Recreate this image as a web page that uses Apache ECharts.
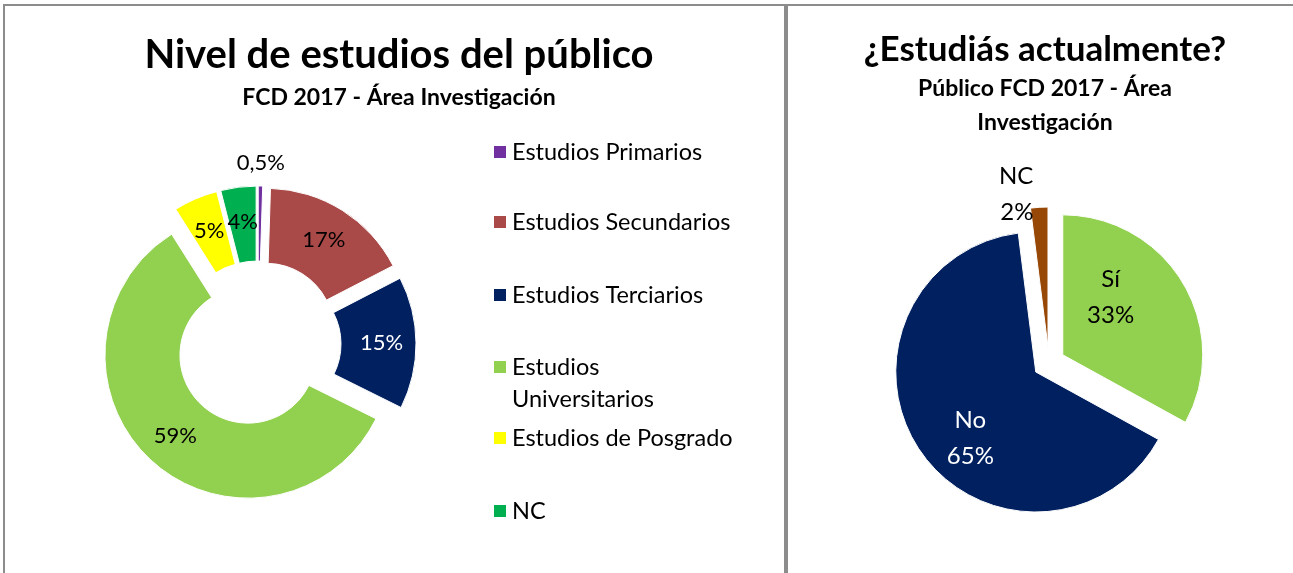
<!DOCTYPE html>
<html>
<head>
<meta charset="utf-8">
<script src="https://cdn.jsdelivr.net/npm/echarts@6/dist/echarts.min.js"></script>
<style>
  html, body { margin: 0; padding: 0; background: #fff; }
  #main { width: 1293px; height: 573px; }
</style>
</head>
<body>
<div id="main"></div>
<script>
// nivel de estudios
var niveles = ['Estudios Primarios', 'Estudios Secundarios', 'Estudios Terciarios',
               'Estudios Universitarios', 'Estudios de Posgrado', 'NC'];
var nivelesPct = [0.5, 17, 15, 59, 5, 4];
// ¿estudiás actualmente?
var respuestas = ['Sí', 'No', 'NC'];
var respuestasPct = [33, 65, 2];

var coloresNivel = ['#7030A0', '#AA4A48', '#002060', '#92D050', '#FFFF00', '#00B050'];
var coloresResp = ['#92D050', '#002060', '#974706'];
var fuente = 'Lato';

var myChart = echarts.init(document.getElementById('main'));

var dataNivel = niveles.map(function (n, i) {
    var item = {
        name: n,
        value: nivelesPct[i],
        selected: true,
        itemStyle: {color: coloresNivel[i]},
        label: {color: coloresNivel[i] === '#002060' ? '#fff' : '#000'}
    };
    if (i === 0) {
        item.label.position = 'outside';
        item.labelLine = {show: false, length: 23, length2: 0};
    }
    return item;
});

var dataResp = respuestas.map(function (n, i) {
    var item = {
        name: n,
        value: respuestasPct[i],
        selected: true,
        itemStyle: {color: coloresResp[i]},
        label: {color: coloresResp[i] === '#002060' ? '#fff' : '#000'}
    };
    if (n === 'NC') {
        item.label.position = 'outside';
        item.labelLine = {show: false, length: 13, length2: 0};
    }
    return item;
});

// una leyenda por item, asi el texto en dos lineas no corre el resto
var legendTops = [152, 222, 295, 367, 438, 511];
var legends = niveles.map(function (n, i) {
    var dosLineas = n === 'Estudios Universitarios';
    return {
        data: [n],
        left: 492,
        top: legendTops[i] - (dosLineas ? 48 : 12),
        padding: 0,
        itemWidth: 14,
        itemHeight: 14,
        icon: 'rect',
        selectedMode: false,
        // linea vacia arriba para que el icono quede con "Estudios"
        formatter: dosLineas ? function () { return '\nEstudios\nUniversitarios'; } : '{name}',
        textStyle: {
            fontFamily: fuente,
            fontSize: 23.5,
            color: '#000',
            lineHeight: dosLineas ? 32 : 24
        }
    };
});

var optionMap = {
    backgroundColor: '#FFFFFF',
    animation: false,
    title: [{
        text: 'Nivel de estudios del público',
        subtext: 'FCD 2017 - Área Investigación',
        left: 394,
        top: 30,
        textAlign: 'center',
        itemGap: 11,
        textStyle: {fontFamily: fuente, fontWeight: 'bold', fontSize: 40, color: '#000'},
        subtextStyle: {fontFamily: fuente, fontWeight: 'bold', fontSize: 23, color: '#000'}
    }, {
        text: '¿Estudiás actualmente?',
        subtext: 'Público FCD 2017 - Área\nInvestigación',
        left: 1040,
        top: 27,
        textAlign: 'center',
        itemGap: 5,
        textStyle: {fontFamily: fuente, fontWeight: 'bold', fontSize: 35, color: '#000'},
        subtextStyle: {fontFamily: fuente, fontWeight: 'bold', fontSize: 23, lineHeight: 34, color: '#000'}
    }],
    legend: legends,
    graphic: [
        {type: 'rect', shape: {x: 3, y: 4, width: 1290, height: 2}, style: {fill: '#8c8c8c'}, silent: true},
        {type: 'rect', shape: {x: 3, y: 4, width: 2, height: 569}, style: {fill: '#8c8c8c'}, silent: true},
        {type: 'rect', shape: {x: 784, y: 4, width: 4, height: 569}, style: {fill: '#8c8c8c'}, silent: true}
    ],
    series: [{
        name: 'Nivel de estudios',
        type: 'pie',
        center: [258, 344],
        radius: [68, 143],
        startAngle: 90,
        clockwise: true,
        selectedMode: 'multiple',
        selectedOffset: 15,
        silent: true,
        label: {
            show: true,
            position: 'inside',
            fontFamily: fuente,
            fontSize: 22,
            distanceToLabelLine: 0,
            formatter: function (p) {
                return String(p.value).replace('.', ',') + '%';
            }
        },
        labelLayout: function (p) {
            return p.dataIndex === 0 ? {align: 'center'} : {};
        },
        itemStyle: {borderColor: '#fff', borderWidth: 1},
        data: dataNivel
    }, {
        name: '¿Estudiás actualmente?',
        type: 'pie',
        center: [1049, 363],
        radius: [0, 140],
        startAngle: 90,
        clockwise: true,
        selectedMode: 'multiple',
        selectedOffset: 16,
        silent: true,
        label: {
            show: true,
            position: 'inside',
            fontFamily: fuente,
            fontSize: 24,
            lineHeight: 36,
            distanceToLabelLine: 5,
            formatter: '{b}\n{c}%'
        },
        // corrimiento de etiquetas como en el original
        labelLayout: function (p) {
            if (p.dataIndex === 0) return {dx: -15, dy: -20};
            if (p.dataIndex === 1) return {dx: -5, dy: 25};
            return {};
        },
        itemStyle: {borderColor: '#fff', borderWidth: 1},
        data: dataResp
    }]
};
myChart.setOption(optionMap);
</script>
</body>
</html>
